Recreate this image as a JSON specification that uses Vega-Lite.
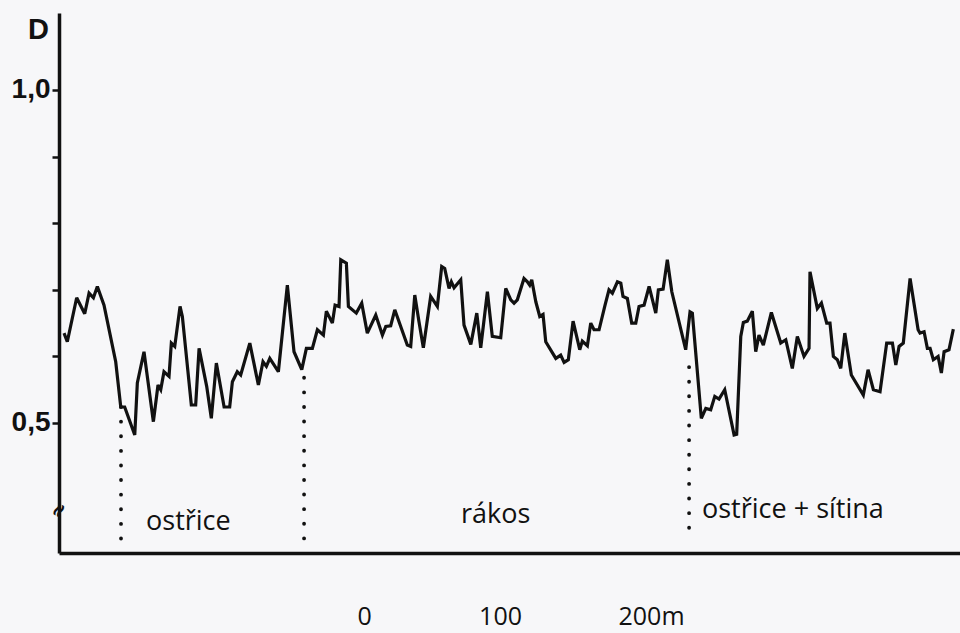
{
  "$schema": "https://vega.github.io/schema/vega-lite/v6.json",
  "width": 901,
  "height": 540,
  "autosize": {"type": "none"},
  "padding": {"left": 59, "top": 13, "right": 0, "bottom": 80},
  "background": "#f7f7f9",
  "config": {"view": {"stroke": null}},
  "datasets": {
    "profile": [
      {"m": -220.6, "D": 0.635}, {"m": -218.2, "D": 0.622}, {"m": -211.3, "D": 0.688}, {"m": -205.4, "D": 0.664},
      {"m": -202.2, "D": 0.695}, {"m": -199.0, "D": 0.688}, {"m": -196.1, "D": 0.705}, {"m": -191.2, "D": 0.677},
      {"m": -182.6, "D": 0.592}, {"m": -178.9, "D": 0.524}, {"m": -176.0, "D": 0.524}, {"m": -168.6, "D": 0.482},
      {"m": -166.7, "D": 0.560}, {"m": -161.8, "D": 0.607}, {"m": -154.9, "D": 0.502}, {"m": -151.5, "D": 0.557},
      {"m": -149.5, "D": 0.550}, {"m": -147.1, "D": 0.577}, {"m": -143.4, "D": 0.570}, {"m": -141.7, "D": 0.620},
      {"m": -139.2, "D": 0.615}, {"m": -135.3, "D": 0.675}, {"m": -133.6, "D": 0.660}, {"m": -127.0, "D": 0.527},
      {"m": -123.8, "D": 0.527}, {"m": -121.3, "D": 0.612}, {"m": -115.7, "D": 0.555}, {"m": -112.3, "D": 0.507},
      {"m": -108.6, "D": 0.590}, {"m": -102.9, "D": 0.524}, {"m": -98.8, "D": 0.524}, {"m": -96.8, "D": 0.562},
      {"m": -93.2, "D": 0.577}, {"m": -90.7, "D": 0.572}, {"m": -84.0, "D": 0.620}, {"m": -77.7, "D": 0.557},
      {"m": -74.3, "D": 0.592}, {"m": -71.8, "D": 0.585}, {"m": -69.3, "D": 0.597}, {"m": -63.0, "D": 0.577},
      {"m": -56.4, "D": 0.707}, {"m": -51.5, "D": 0.607}, {"m": -45.8, "D": 0.580}, {"m": -42.4, "D": 0.612},
      {"m": -38.0, "D": 0.612}, {"m": -34.3, "D": 0.640}, {"m": -29.9, "D": 0.632}, {"m": -27.7, "D": 0.668},
      {"m": -23.3, "D": 0.650}, {"m": -21.3, "D": 0.677}, {"m": -18.4, "D": 0.675}, {"m": -17.1, "D": 0.745},
      {"m": -13.0, "D": 0.740}, {"m": -11.5, "D": 0.675}, {"m": -5.7, "D": 0.665}, {"m": -1.7, "D": 0.680},
      {"m": 2.4, "D": 0.635}, {"m": 8.6, "D": 0.662}, {"m": 13.5, "D": 0.632}, {"m": 16.0, "D": 0.645},
      {"m": 19.6, "D": 0.646}, {"m": 22.6, "D": 0.670}, {"m": 31.8, "D": 0.617}, {"m": 34.3, "D": 0.615},
      {"m": 37.3, "D": 0.692}, {"m": 40.4, "D": 0.652}, {"m": 43.6, "D": 0.613}, {"m": 49.0, "D": 0.690},
      {"m": 53.9, "D": 0.675}, {"m": 57.1, "D": 0.735}, {"m": 59.3, "D": 0.732}, {"m": 62.5, "D": 0.702},
      {"m": 64.2, "D": 0.712}, {"m": 66.2, "D": 0.703}, {"m": 71.1, "D": 0.715}, {"m": 73.5, "D": 0.647},
      {"m": 78.5, "D": 0.618}, {"m": 82.9, "D": 0.665}, {"m": 85.8, "D": 0.613}, {"m": 90.7, "D": 0.697},
      {"m": 94.3, "D": 0.630}, {"m": 100.5, "D": 0.628}, {"m": 104.2, "D": 0.702}, {"m": 107.9, "D": 0.685},
      {"m": 110.3, "D": 0.680}, {"m": 112.7, "D": 0.685}, {"m": 117.6, "D": 0.717}, {"m": 120.1, "D": 0.712},
      {"m": 121.8, "D": 0.707}, {"m": 123.3, "D": 0.715}, {"m": 126.3, "D": 0.682}, {"m": 129.2, "D": 0.660},
      {"m": 131.6, "D": 0.663}, {"m": 133.6, "D": 0.622}, {"m": 141.0, "D": 0.597}, {"m": 144.6, "D": 0.602},
      {"m": 147.1, "D": 0.591}, {"m": 150.2, "D": 0.595}, {"m": 153.7, "D": 0.653}, {"m": 158.6, "D": 0.610},
      {"m": 160.5, "D": 0.623}, {"m": 164.2, "D": 0.616}, {"m": 166.7, "D": 0.650}, {"m": 169.1, "D": 0.640},
      {"m": 172.8, "D": 0.640}, {"m": 177.2, "D": 0.677}, {"m": 180.1, "D": 0.700}, {"m": 182.6, "D": 0.695},
      {"m": 186.3, "D": 0.712}, {"m": 188.8, "D": 0.710}, {"m": 190.4, "D": 0.690}, {"m": 193.6, "D": 0.687},
      {"m": 196.8, "D": 0.650}, {"m": 199.8, "D": 0.650}, {"m": 202.2, "D": 0.675}, {"m": 205.9, "D": 0.677},
      {"m": 209.6, "D": 0.705}, {"m": 214.5, "D": 0.665}, {"m": 216.4, "D": 0.700}, {"m": 219.9, "D": 0.701},
      {"m": 223.0, "D": 0.745}, {"m": 226.3, "D": 0.697}, {"m": 236.5, "D": 0.610}, {"m": 239.7, "D": 0.667},
      {"m": 241.4, "D": 0.665}, {"m": 248.0, "D": 0.507}, {"m": 251.3, "D": 0.522}, {"m": 254.9, "D": 0.520},
      {"m": 257.9, "D": 0.540}, {"m": 261.0, "D": 0.536}, {"m": 265.2, "D": 0.550}, {"m": 272.1, "D": 0.482},
      {"m": 274.0, "D": 0.483}, {"m": 277.0, "D": 0.630}, {"m": 278.9, "D": 0.651}, {"m": 281.8, "D": 0.653},
      {"m": 285.5, "D": 0.668}, {"m": 288.0, "D": 0.607}, {"m": 290.4, "D": 0.632}, {"m": 293.6, "D": 0.617},
      {"m": 299.5, "D": 0.666}, {"m": 306.4, "D": 0.620}, {"m": 310.1, "D": 0.625}, {"m": 314.9, "D": 0.582},
      {"m": 318.6, "D": 0.630}, {"m": 323.5, "D": 0.600}, {"m": 327.2, "D": 0.612}, {"m": 327.9, "D": 0.727},
      {"m": 333.3, "D": 0.672}, {"m": 336.3, "D": 0.680}, {"m": 340.2, "D": 0.650}, {"m": 342.6, "D": 0.650},
      {"m": 345.1, "D": 0.600}, {"m": 348.0, "D": 0.595}, {"m": 350.5, "D": 0.582}, {"m": 353.5, "D": 0.635},
      {"m": 358.3, "D": 0.572}, {"m": 367.1, "D": 0.542}, {"m": 370.6, "D": 0.580}, {"m": 374.5, "D": 0.550},
      {"m": 379.4, "D": 0.547}, {"m": 384.3, "D": 0.620}, {"m": 388.5, "D": 0.620}, {"m": 391.0, "D": 0.587},
      {"m": 393.4, "D": 0.615}, {"m": 396.5, "D": 0.620}, {"m": 401.5, "D": 0.717}, {"m": 407.4, "D": 0.640},
      {"m": 408.8, "D": 0.635}, {"m": 411.8, "D": 0.637}, {"m": 414.2, "D": 0.612}, {"m": 416.2, "D": 0.612},
      {"m": 418.6, "D": 0.595}, {"m": 422.1, "D": 0.600}, {"m": 424.5, "D": 0.575}, {"m": 426.5, "D": 0.607},
      {"m": 430.1, "D": 0.610}, {"m": 433.3, "D": 0.641}
    ],
    "boundaries": [
      {"m": -178.7, "top": 0.524, "bottom": 0.317},
      {"m": -44.1, "top": 0.568, "bottom": 0.321},
      {"m": 239.0, "top": 0.584, "bottom": 0.339}
    ],
    "zones": [
      {"label": "ostřice", "m": -160.3, "D": 0.339},
      {"label": "rákos", "m": 71.3, "D": 0.350},
      {"label": "ostřice + sítina", "m": 248.5, "D": 0.357}
    ],
    "axisbreak": [
      {"label": "≈", "m": -224.3, "D": 0.369}
    ]
  },
  "layer": [
    {
      "data": {"name": "profile"},
      "mark": {"type": "line", "color": "#111111", "strokeWidth": 3.2, "strokeJoin": "miter", "strokeMiterLimit": 3},
      "encoding": {
        "x": {
          "field": "m", "type": "quantitative",
          "scale": {"domain": [-224.3, 438.2], "nice": false, "zero": false},
          "axis": {
            "title": null, "grid": false, "ticks": false, "tickSize": 0,
            "domain": true, "domainColor": "#111111", "domainWidth": 3.5,
            "values": [0, 100, 200],
            "labelExpr": "datum.value == 200 ? '200m' : datum.label",
            "labelFont": "Open Sans", "labelFontSize": 25, "labelColor": "#111111",
            "labelBaseline": "alphabetic", "labelPadding": 71,
            "labelOffset": {"condition": {"test": "datum.value == 200", "value": 15}, "value": 0},
            "labelFlush": false, "labelOverlap": false
          }
        },
        "y": {
          "field": "D", "type": "quantitative",
          "scale": {"domain": [0.3048, 1.1156], "nice": false, "zero": false},
          "axis": {
            "title": "D", "titleAngle": 0, "titleX": -21, "titleY": 25,
            "titleAlign": "center", "titleBaseline": "alphabetic",
            "titleFont": "Liberation Sans", "titleFontSize": 29, "titleFontWeight": "bold", "titleColor": "#111111",
            "grid": false, "domain": true, "domainColor": "#111111", "domainWidth": 3.5,
            "values": [0.5, 0.6, 0.7, 0.8, 0.9, 1.0],
            "ticks": true, "tickSize": 7, "tickWidth": 2.5, "tickColor": "#111111",
            "labelExpr": "datum.value == 1 ? '1,0' : (datum.value == 0.5 ? '0,5' : '')",
            "labelFont": "Liberation Sans", "labelFontSize": 28, "labelFontWeight": "bold", "labelColor": "#111111",
            "labelPadding": 2, "labelBaseline": "middle", "labelFlush": false, "labelOverlap": false
          }
        }
      }
    },
    {
      "data": {"name": "boundaries"},
      "mark": {"type": "rule", "color": "#111111", "strokeWidth": 3.8, "strokeCap": "round", "strokeDash": [0.1, 14.5]},
      "encoding": {
        "x": {"field": "m", "type": "quantitative"},
        "y": {"field": "top", "type": "quantitative"},
        "y2": {"field": "bottom"}
      }
    },
    {
      "data": {"name": "zones"},
      "mark": {"type": "text", "align": "left", "baseline": "alphabetic", "font": "Open Sans", "fontSize": 27, "color": "#111111"},
      "encoding": {
        "x": {"field": "m", "type": "quantitative"},
        "y": {"field": "D", "type": "quantitative"},
        "text": {"field": "label"}
      }
    },
    {
      "data": {"name": "axisbreak"},
      "mark": {"type": "text", "align": "center", "baseline": "middle", "font": "DejaVu Sans", "fontSize": 20, "fontWeight": "bold", "angle": 300, "color": "#111111"},
      "encoding": {
        "x": {"field": "m", "type": "quantitative"},
        "y": {"field": "D", "type": "quantitative"},
        "text": {"field": "label"}
      }
    }
  ]
}
